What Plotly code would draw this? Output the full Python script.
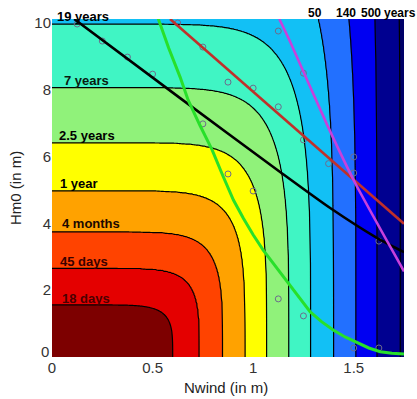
import numpy as np
import plotly.graph_objects as go

# ---- contour levels (return periods): intercepts on the Nwind and Hm0 axes ----
level_names = ["18 days", "45 days", "4 months", "1 year", "2.5 years", "7 years",
               "19 years", "50", "140", "500", ""]
x_intercepts = [0.600, 0.733, 0.849, 0.960, 1.068, 1.178, 1.286, 1.400, 1.511, 1.616, 1.731]
y_intercepts = [1.56, 2.66, 3.75, 4.98, 6.42, 8.07, 9.97, 13.1, 15.8, 21.5, 26.0]
band_colors = ["#7d0000", "#e40000", "#ff4300", "#ffa200", "#ffff00", "#90f27a",
               "#40f5c4", "#12c0f5", "#2270ff", "#0000f2", "#000090", "#000068"]

# ---- fitted curves ----
black_x = [0.110, 0.637, 1.134, 1.383, 1.617, 1.750]
black_y = [10.12, 7.75, 5.54, 4.46, 3.56, 3.14]
red_x = [0.587, 1.100, 1.500, 1.750]
red_y = [10.12, 7.42, 5.31, 3.99]
magenta_x = [1.130, 1.184, 1.368, 1.507, 1.741, 1.750]
magenta_y = [10.12, 9.44, 6.95, 5.21, 2.66, 2.56]
green_x = [0.527, 0.580, 0.637, 0.677, 0.736, 0.796, 0.850, 0.902, 0.952, 1.000, 1.050,
           1.118, 1.184, 1.234, 1.284, 1.340, 1.398, 1.457, 1.517, 1.575, 1.632, 1.690, 1.750]
green_y = [10.15, 9.25, 8.38, 7.69, 6.93, 6.20, 5.42, 4.70, 4.15, 3.66, 3.20,
           2.66, 2.16, 1.74, 1.35, 1.06, 0.81, 0.60, 0.42, 0.27, 0.16, 0.11, 0.09]

# ---- sample points (open circles) ----
pts_x = [0.125, 0.25, 0.375, 0.5, 0.625, 0.75, 0.875, 1.0, 1.125, 1.25, 1.375, 1.5, 1.5,
         1.125, 1.25, 1.625, 0.75, 0.875, 1.0, 1.125, 1.25, 1.5, 1.625]
pts_y = [9.97, 9.46, 8.98, 8.47, 10.0, 9.28, 8.23, 8.05, 7.49, 6.50, 5.79, 5.51, 5.99,
         9.76, 8.50, 3.47, 6.98, 5.48, 4.97, 1.74, 1.23, 0.27, 0.27]

x_ticks = [0, 0.5, 1, 1.5]
x_ticktext = ["0", "0.5", "1", "1.5"]
y_ticks = [2, 4, 6, 8, 10]
y_ticktext = ["2", "4", "6", "8", "10"]

XMAX, YMAX = 1.75, 10.12
PX, PY = 8.0, 4.0

# ---- build level field from intercepts ----
xs = np.linspace(0, XMAX, 351)
ys = np.linspace(0, YMAX, 341)
X, Y = np.meshgrid(xs, ys)
a = np.array(x_intercepts)[:, None, None]
b = np.array(y_intercepts)[:, None, None]
G = (X / a) ** PX + (Y / b) ** PY
K = len(x_intercepts)
n = (G > 1).sum(axis=0)
Z = np.empty_like(X)
m0 = n == 0
Z[m0] = G[0][m0] - 1
mK = n == K
Z[mK] = K - 1 + np.minimum(G[K - 1][mK] - 1, 0.9)
mid = (~m0) & (~mK)
nn = n[mid]
iy, ix = np.nonzero(mid)
g_lo = G[nn - 1, iy, ix]
g_hi = G[nn, iy, ix]
Z[mid] = (nn - 1) + (g_lo - 1) / (g_lo - g_hi)

nc = K
cscale = []
for j, c in enumerate(band_colors):
    lo = max(0.0, (j - 0.5) / nc)
    hi = min(1.0, (j + 0.5) / nc)
    cscale.append([lo, c])
    cscale.append([hi, c])

fig = go.Figure()
fig.add_trace(go.Contour(
    x=xs, y=ys, z=Z,
    contours=dict(start=0, end=K - 1, size=1, coloring="fill"),
    colorscale=cscale, showscale=False,
    line=dict(color="black", width=1.2),
    hoverinfo="skip",
))

fig.add_trace(go.Scatter(x=pts_x, y=pts_y, mode="markers",
                         marker=dict(symbol="circle-open", size=6, color="#6c6c8c",
                                     line=dict(width=1)),
                         showlegend=False))
fig.add_trace(go.Scatter(x=black_x, y=black_y, mode="lines",
                         line=dict(color="black", width=2.6, shape="spline", smoothing=0.6),
                         showlegend=False))
fig.add_trace(go.Scatter(x=red_x, y=red_y, mode="lines",
                         line=dict(color="#c0302a", width=2.6), showlegend=False))
fig.add_trace(go.Scatter(x=magenta_x, y=magenta_y, mode="lines",
                         line=dict(color="#c840dc", width=2.6, shape="spline", smoothing=0.6),
                         showlegend=False))
fig.add_trace(go.Scatter(x=green_x, y=green_y, mode="lines",
                         line=dict(color="#28e02a", width=3), showlegend=False))

font_fam = "Liberation Sans, Arial, sans-serif"
PLOT_T, PLOT_B = 19, 357


def paper_y(py):
    return (PLOT_B - py) / (PLOT_B - PLOT_T)


annos = []
label_pos = [
    ("19 years", 0.015, paper_y(16), "#000000"),
    ("7 years", 0.050, paper_y(80), "#0a1a10"),
    ("2.5 years", 0.025, paper_y(135), "#000000"),
    ("1 year", 0.030, paper_y(183), "#000000"),
    ("4 months", 0.040, paper_y(223), "#1a0800"),
    ("45 days", 0.030, paper_y(261), "#3a0000"),
    ("18 days", 0.040, paper_y(298), "#4a0000"),
]
for txt, xx, yy, col in label_pos:
    annos.append(dict(x=xx, y=yy, xref="x", yref="paper", text="<b>%s</b>" % txt,
                      showarrow=False, xanchor="left", yanchor="middle",
                      font=dict(size=13, color=col, family=font_fam)))
for txt, xx, anc in [("50", 1.308, "center"), ("140", 1.463, "center"),
                     ("500", 1.643, "right"), ("years", 1.648, "left")]:
    annos.append(dict(x=xx, y=paper_y(13), xref="x", yref="paper", text="<b>%s</b>" % txt,
                      showarrow=False, xanchor=anc, yanchor="middle", borderpad=0,
                      font=dict(size=12, color="#000000", family=font_fam)))
# y-axis "0" label sits a little above the x-axis "0"
annos.append(dict(x=-0.003, y=paper_y(351), xref="paper", yref="paper", text="0",
                  showarrow=False, xanchor="right", yanchor="middle",
                  font=dict(size=15, color="#333", family=font_fam)))
annos.append(dict(x=0.494, y=paper_y(387), xref="paper", yref="paper", text="Nwind (in m)",
                  showarrow=False, xanchor="center", yanchor="middle",
                  font=dict(size=15, color="#222", family=font_fam)))
annos.append(dict(x=-0.105, y=0.5, xref="paper", yref="paper", text="Hm0 (in m)",
                  showarrow=False, xanchor="center", yanchor="middle", textangle=-90,
                  font=dict(size=15, color="#222", family=font_fam)))

fig.update_layout(
    width=417, height=399,
    margin=dict(l=52, r=13, t=19, b=42, autoexpand=False),
    paper_bgcolor="white", plot_bgcolor="white",
    showlegend=False,
    annotations=annos,
    xaxis=dict(range=[0, XMAX], tickvals=x_ticks, ticktext=x_ticktext,
               showgrid=False, zeroline=False, showline=False, ticks="",
               tickfont=dict(size=15, color="#333", family=font_fam), automargin=False),
    yaxis=dict(range=[0, YMAX], tickvals=y_ticks, ticktext=y_ticktext,
               showgrid=False, zeroline=False, showline=False, ticks="",
               tickfont=dict(size=15, color="#333", family=font_fam), automargin=False),
)

fig.write_html("out.html")
